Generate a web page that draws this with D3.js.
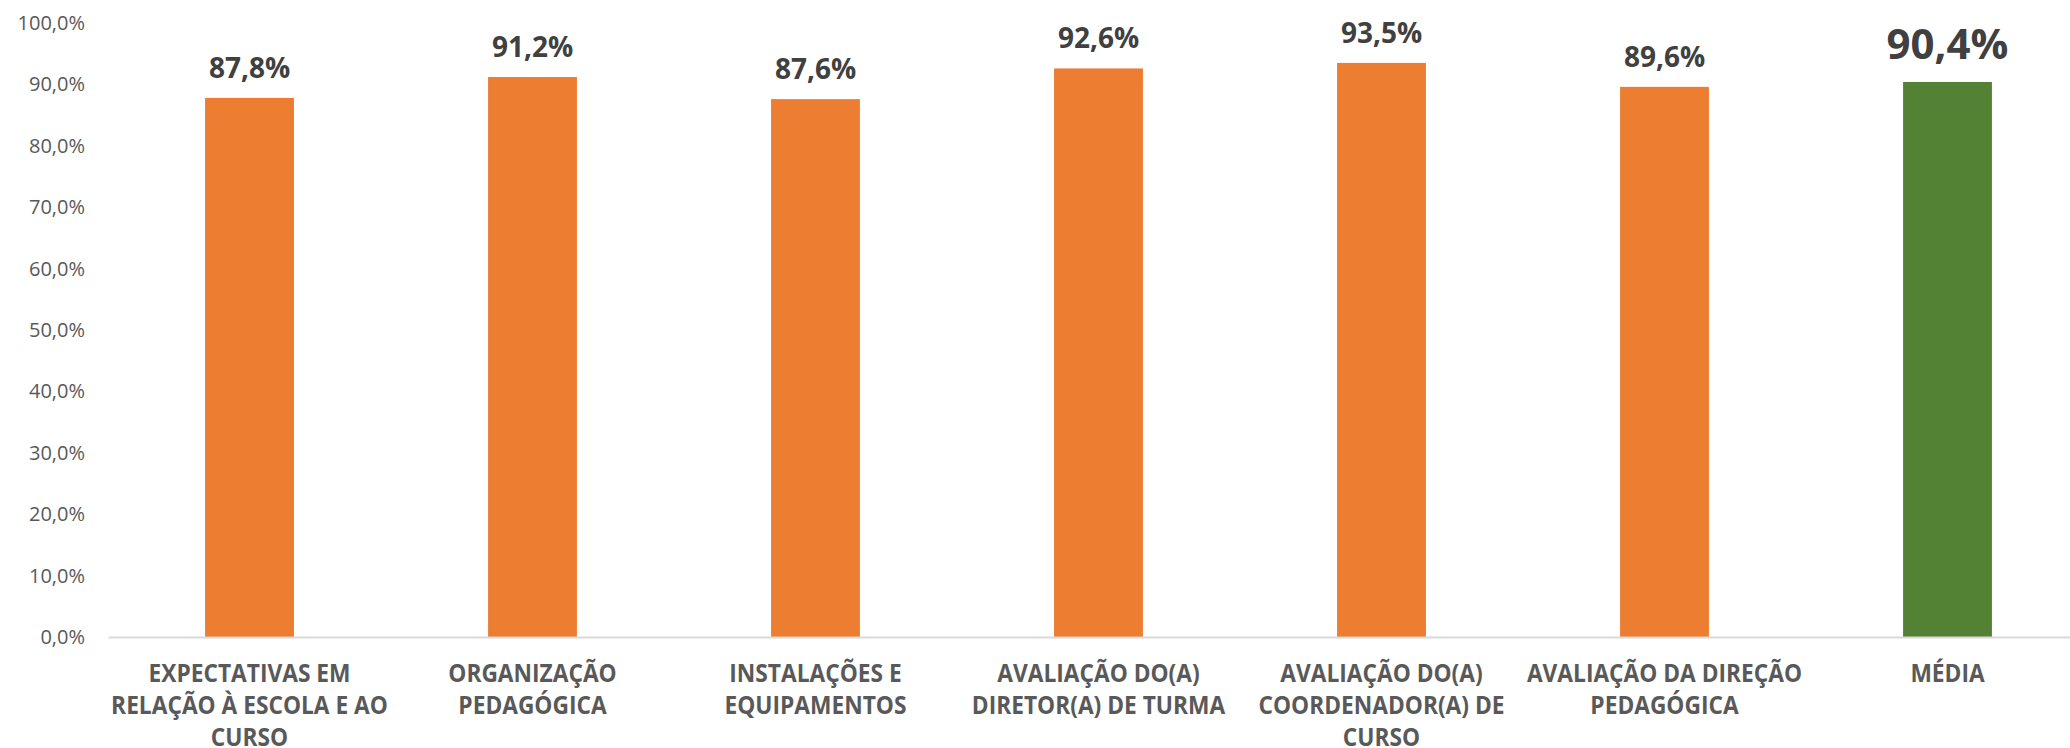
<!DOCTYPE html>
<html>
<head>
<meta charset="utf-8">
<script src="https://cdn.jsdelivr.net/npm/d3@7"></script>
<style>
  body { margin: 0; background: #fff; }
  svg { display: block; font-family: "Open Sans", sans-serif; }
</style>
</head>
<body>
<div class="chart-container"></div>
<script>
// categorias (quebras de linha como no original)
var categorias = [
    "EXPECTATIVAS EM\nRELAÇÃO À ESCOLA E AO\nCURSO",
    "ORGANIZAÇÃO\nPEDAGÓGICA",
    "INSTALAÇÕES E\nEQUIPAMENTOS",
    "AVALIAÇÃO DO(A)\nDIRETOR(A) DE TURMA",
    "AVALIAÇÃO DO(A)\nCOORDENADOR(A) DE\nCURSO",
    "AVALIAÇÃO DA DIREÇÃO\nPEDAGÓGICA",
    "MÉDIA"
];
var valores = [87.8, 91.2, 87.6, 92.6, 93.5, 89.6, 90.4];
var ticksY = [0, 10, 20, 30, 40, 50, 60, 70, 80, 90, 100];

var width = 2070,
    height = 748;

var margin = { top: 23, left: 108, bottom: 111 };
var plotRight = 2089; // a area do grafico passa um pouco da janela

var svg = d3.select(".chart-container")
    .append("svg")
    .attr("width", width)
    .attr("height", height);

var x = d3.scaleBand()
    .domain(categorias)
    .range([margin.left, plotRight])
    .paddingInner(0.686)
    .paddingOuter(0.343);

var y = d3.scaleLinear()
    .domain([0, 100])
    .range([height - margin.bottom, margin.top]);

var fmt = function(v) {
    return d3.format(".1f")(v).replace(".", ",") + "%";
};

// eixo Y (so os textos)
var yAxis = d3.axisLeft(y)
    .tickValues(ticksY)
    .tickFormat(fmt)
    .tickSize(0)
    .tickPadding(0);

var gy = svg.append("g")
    .attr("transform", "translate(85,0)")
    .call(yAxis);
gy.select(".domain").remove();
gy.selectAll("text")
    .attr("fill", "#595959")
    .style("font-size", "20px")
    .style("font-family", "'Open Sans', sans-serif");

// barras
svg.selectAll(".bar")
    .data(valores)
    .enter().append("rect")
    .attr("class", "bar")
    .attr("x", function(d, i) { return x(categorias[i]); })
    .attr("width", x.bandwidth())
    .attr("y", function(d) { return y(d); })
    .attr("height", function(d) { return y(0) - y(d); })
    .attr("fill", function(d, i) { return i === valores.length - 1 ? "#548235" : "#ED7D31"; });

// linha do eixo X
var xAxis = d3.axisBottom(x).tickSize(0).tickFormat("");
var gx = svg.append("g")
    .attr("transform", "translate(0," + y(0) + ")")
    .call(xAxis);
gx.select(".domain")
    .attr("stroke", "#D9D9D9")
    .attr("stroke-width", 2);

// rotulos das categorias (fonte um pouco condensada, como a Calibri)
var labels = svg.selectAll(".cat")
    .data(categorias)
    .enter().append("g")
    .attr("class", "cat")
    .attr("transform", function(d) {
        return "translate(" + (x(d) + x.bandwidth() / 2) + "," + (y(0) + 45) + ") scale(0.91,1)";
    })
    .append("text")
    .attr("text-anchor", "middle")
    .attr("fill", "#595959")
    .style("font-size", "25px")
    .style("font-weight", "bold");

labels.each(function(d) {
    var t = d3.select(this);
    d.split("\n").forEach(function(linha, k) {
        t.append("tspan")
            .attr("x", 0)
            .attr("y", k * 32)
            .text(linha);
    });
});

// rotulos de valor
svg.selectAll(".valor")
    .data(valores)
    .enter().append("text")
    .attr("class", "valor")
    .attr("text-anchor", "middle")
    .attr("fill", "#404040")
    .style("font-weight", "bold")
    .style("font-size", function(d, i) { return i === valores.length - 1 ? "42px" : "28px"; })
    .attr("x", function(d, i) { return x(categorias[i]) + x.bandwidth() / 2; })
    .attr("y", function(d, i) { return y(d) - (i === valores.length - 1 ? 23 : 20); })
    .text(fmt);
</script>
</body>
</html>
